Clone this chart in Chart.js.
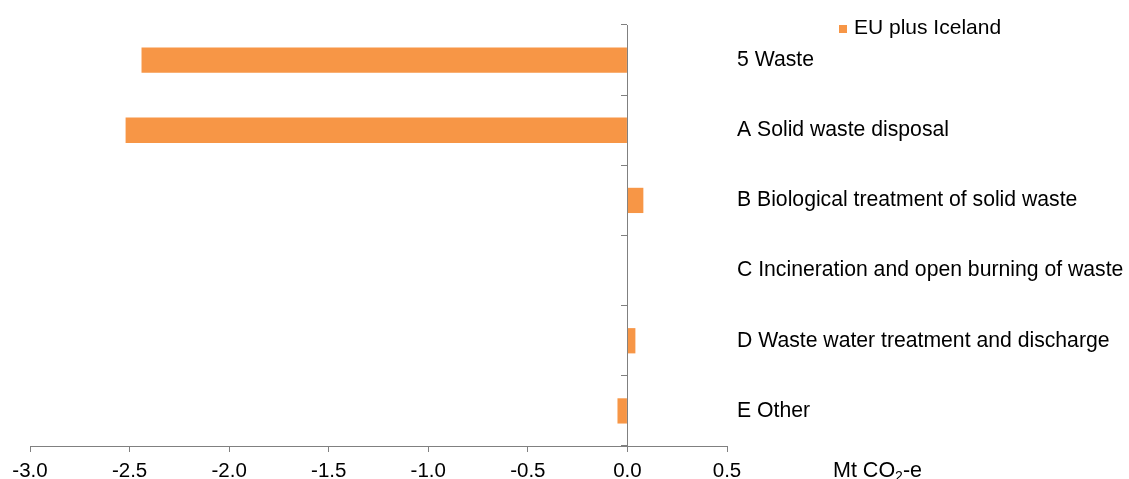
<!DOCTYPE html>
<html>
<head>
<meta charset="utf-8">
<script src="https://cdn.jsdelivr.net/npm/chart.js@4"></script>
<style>
  html, body { margin: 0; padding: 0; background: #fff; }
  #wrap { width: 1129px; height: 479px; position: relative; }
</style>
</head>
<body>
<div id="wrap"><canvas id="chart"></canvas></div>
<script>
const categories = [
  "5 Waste",
  "A Solid waste disposal",
  "B Biological treatment of solid waste",
  "C Incineration and open burning of waste",
  "D Waste water treatment and discharge",
  "E Other"
];
const seriesName = "EU plus Iceland";
const euPlusIceland = [-2.44, -2.52, 0.08, 0.0, 0.04, -0.05];
const xMin = -3.0;
const xMax = 0.5;
const xStep = 0.5;
const unitParts = ["Mt CO", "2", "-e"];

const barColor = "#F79646";
const axisColor = "#808080";
const fontFamily = '"Liberation Sans", Arial, sans-serif';

Chart.defaults.font.family = fontFamily;
Chart.defaults.color = "#000";

// legend + unit label sit in the label column, outside the plot area
const extras = {
  id: "extras",
  afterDraw(chart) {
    const { ctx, chartArea } = chart;
    ctx.save();
    ctx.fillStyle = barColor;
    ctx.fillRect(chartArea.right + 112, 25, 8, 8);
    ctx.fillStyle = "#000";
    ctx.font = "21px " + fontFamily;
    ctx.textBaseline = "middle";
    ctx.fillText(chart.data.datasets[0].label, chartArea.right + 127, 28);

    ctx.textBaseline = "alphabetic";
    let x = chartArea.right + 106;
    const y = 477;
    ctx.font = "21.5px " + fontFamily;
    ctx.fillText(unitParts[0], x, y);
    x += ctx.measureText(unitParts[0]).width;
    ctx.font = "14px " + fontFamily;
    ctx.fillText(unitParts[1], x, y + 4);
    x += ctx.measureText(unitParts[1]).width;
    ctx.font = "21.5px " + fontFamily;
    ctx.fillText(unitParts[2], x, y);
    ctx.restore();
  }
};

new Chart(document.getElementById("chart"), {
  type: "bar",
  data: {
    labels: categories,
    datasets: [{
      label: seriesName,
      data: euPlusIceland,
      backgroundColor: barColor,
      borderWidth: 0,
      barPercentage: 0.36,
      categoryPercentage: 1.0,
      yAxisID: "y",
    }],
  },
  options: {
    indexAxis: "y",
    responsive: true,
    maintainAspectRatio: false,
    animation: false,
    layout: {
      padding: { left: 30, top: 25, right: 0, bottom: 0 }
    },
    scales: {
      x: {
        type: "linear",
        position: "bottom",
        min: xMin,
        max: xMax,
        ticks: {
          stepSize: xStep,
          padding: 7,
          maxRotation: 0,
          font: { size: 20.5 },
          color: "#000",
          callback: function(value) {
            return (Math.abs(value) < 1e-9 ? 0 : value).toFixed(1);
          },
        },
        grid: {
          drawOnChartArea: false,
          tickLength: 6,
          color: axisColor,
        },
        border: { color: axisColor, width: 1 },
        afterFit: function(scale) { scale.height = 33; },
      },
      y: {
        type: "category",
        position: { x: 0 },
        offset: true,
        ticks: { display: false },
        grid: {
          offset: true,
          drawOnChartArea: false,
          tickLength: 6,
          color: axisColor,
        },
        border: { color: axisColor, width: 1 },
      },
      yr: {
        type: "category",
        position: "right",
        offset: true,
        grid: { display: false, drawTicks: false },
        border: { display: false },
        ticks: {
          padding: 10,
          crossAlign: "near",
          font: { size: 21.2 },
          color: "#000",
        },
        afterFit: function(scale) { scale.width = 402; },
      },
    },
    plugins: {
      legend: { display: false },
      tooltip: { enabled: false },
    },
  },
  plugins: [extras],
});
</script>
</body>
</html>
